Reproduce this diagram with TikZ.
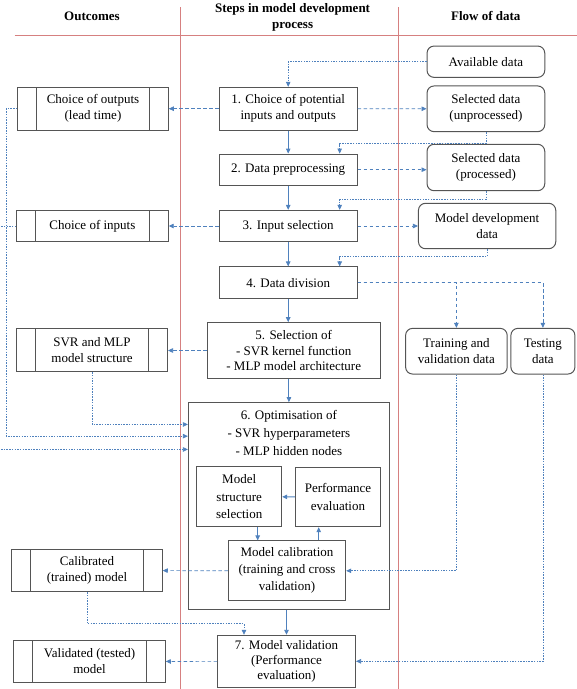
\documentclass[tikz,border=0pt]{standalone}
\usepackage{fontspec}
\setmainfont{Liberation Serif}
\usetikzlibrary{shapes,arrows.meta,positioning,fit}

\definecolor{flowblue}{RGB}{79,129,189}
\definecolor{colred}{RGB}{214,128,128}
\definecolor{boxgrey}{RGB}{85,85,85}

\begin{document}
\begin{tikzpicture}[
    x=1pt, y=-1pt,
    font=\fontsize{13}{16}\selectfont,
    stepbox/.style={rectangle, draw=boxgrey, line width=1pt, align=center, inner sep=0pt},
    databox/.style={rectangle, draw=boxgrey, line width=1pt, rounded corners=7pt, align=center, inner sep=0pt},
    outbox/.style={rectangle, draw=boxgrey, line width=1pt, align=center, inner sep=0pt,
        path picture={\draw[boxgrey, line width=1pt]
            ([xshift=19pt]path picture bounding box.north west) -- ([xshift=19pt]path picture bounding box.south west)
            ([xshift=-19pt]path picture bounding box.north east) -- ([xshift=-19pt]path picture bounding box.south east);}},
    header/.style={font=\fontsize{13}{16.5}\selectfont\bfseries, align=center},
    arrow/.style={-{Triangle[length=5pt,width=4.5pt]}, flowblue, line width=0.9pt},
    dasharrow/.style={arrow, line width=0.7pt, dash pattern=on 3.5pt off 2.5pt},
    dotarrow/.style={arrow, line width=0.7pt, dash pattern=on 1.5pt off 1.2pt}
]
\useasboundingbox (0,0) rectangle (577,689);

% Column rules
\draw[colred, line width=0.8pt] (14.7,35) -- (577,35);
\draw[colred, line width=0.8pt] (180.3,7) -- (180.3,689);
\draw[colred, line width=0.8pt] (398.2,7) -- (398.2,689);

% Headers
\node[header] (hout) at (92,16) {Outcomes};
\node[header] (hsteps) at (292.6,17.5) {Steps in model development\\process};
\node[header] (hflow) at (485.8,16) {Flow of data};

% Flow of data - right
\node[databox, minimum width=117.7pt, minimum height=31.3pt] (avail) at (485.9,61.7) {Available data};
\node[databox, minimum width=117.7pt, minimum height=45.7pt] (selu) at (485.9,108.8) {Selected data\\(unprocessed)};
\node[databox, minimum width=117.7pt, minimum height=46.4pt] (selp) at (485.9,167.5) {Selected data\\(processed)};
\node[databox, minimum width=137.3pt, minimum height=45.4pt] (mdd) at (487.1,226) {Model development\\data};
\node[databox, minimum width=101.6pt, minimum height=45.7pt] (trval) at (456.4,351.2) {Training and\\validation data};
\node[databox, minimum width=64pt, minimum height=45.7pt] (test) at (542.9,351.2) {Testing\\data};

% Steps - middle
\node[stepbox, minimum width=137.6pt, minimum height=42.7pt] (s1) at (288.2,108.7) {1. Choice of potential\\inputs and outputs};
\node[stepbox, minimum width=137.6pt, minimum height=31.3pt] (s2) at (288.2,169.7) {2. Data preprocessing};
\node[stepbox, minimum width=137.6pt, minimum height=31.3pt] (s3) at (288.2,226) {3. Input selection};
\node[stepbox, minimum width=137.6pt, minimum height=31.5pt] (s4) at (288.2,282.7) {4. Data division};
\node[stepbox, minimum width=173pt, minimum height=55.6pt, font=\fontsize{13}{15.5}\selectfont] (s5) at (293.7,350.5) {5. Selection of\\- SVR kernel function\\- MLP model architecture};
\node[stepbox, minimum width=201pt, minimum height=207.3pt] (s6) at (288.9,506.3) {};
\node[align=center, font=\fontsize{13}{18}\selectfont] (s6t) at (288.9,433) {6. Optimisation of\\- SVR hyperparameters\\- MLP hidden nodes};
\node[stepbox, minimum width=85pt, minimum height=60pt, font=\fontsize{13}{17.5}\selectfont] (mss) at (239.2,496.7) {Model\\structure\\selection};
\node[stepbox, minimum width=85.4pt, minimum height=59.4pt, font=\fontsize{13}{17.5}\selectfont] (pe) at (338,497) {Performance\\evaluation};
\node[stepbox, minimum width=117.4pt, minimum height=59.7pt, font=\fontsize{13}{17}\selectfont] (cal) at (287,570.8) {Model calibration\\(training and cross\\validation)};
\node[stepbox, minimum width=138pt, minimum height=52pt, font=\fontsize{13}{15}\selectfont] (s7) at (286.5,661.3) {7. Model validation\\(Performance\\evaluation)};

% Outcomes - left
\node[outbox, minimum width=150.5pt, minimum height=42.7pt] (cout) at (93,108.7) {Choice of outputs\\(lead time)};
\node[outbox, minimum width=151.6pt, minimum height=31.3pt] (cin) at (92.4,226) {Choice of inputs};
\node[outbox, minimum width=151pt, minimum height=42.7pt] (cstr) at (92,350.3) {SVR and MLP\\model structure};
\node[outbox, minimum width=150.5pt, minimum height=42.4pt] (ccal) at (87,570.5) {Calibrated\\(trained) model};
\node[outbox, minimum width=151.3pt, minimum height=41.6pt] (cval) at (89.6,661.5) {Validated (tested)\\model};

% Main steps
\draw[arrow] (s1) -- (s2);
\draw[arrow] (s2) -- (s3);
\draw[arrow] (s3) -- (s4);
\draw[arrow] (s4.south) -- (s4.south |- s5.north);
\draw[arrow] (s5.south -| s6.north) -- (s6.north);
\draw[arrow] (s6.south -| s7.north) -- (s7.north);

% Optimisation loop
\draw[arrow] ([xshift=18.5pt]mss.south) -- ([xshift=18.5pt]mss.south |- cal.north);
\draw[arrow] ([xshift=-19.3pt]pe.south |- cal.north) -- ([xshift=-19.3pt]pe.south);
\draw[arrow] (pe) -- (mss);

% Data into steps
\draw[dotarrow] (avail.west) -| (s1.north);
\draw[dotarrow] (selu.south) -- ++(0,11.5) -| ([xshift=51.5pt]s2.north);
\draw[dotarrow] (selp.south) -- ++(0,8.3) -| ([xshift=51.5pt]s3.north);
\draw[dotarrow] (mdd.south) -- ++(0,7.3) -| ([xshift=51.5pt]s4.north);
\draw[dotarrow] (trval.south) |- (cal.east);
\draw[dotarrow] (test.south) |- (s7.east);

% Steps out to data
\draw[dasharrow] (s1) -- (selu);
\draw[dasharrow] (s2.east) -- (s2.east -| selp.west);
\draw[dasharrow] (s3) -- (mdd);
\draw[dasharrow] (s4.east) -| (trval.north);
\draw[dasharrow] (s4.east) -| (test.north);

% Steps out to outcomes
\draw[dasharrow] (s1) -- (cout);
\draw[dasharrow] (s3) -- (cin);
\draw[dasharrow] (s5.west) -- (s5.west -| cstr.east);
\draw[dasharrow] (cal) -- (ccal);
\draw[dasharrow] (s7) -- (cval);

% Outcomes back into optimisation and validation
\draw[dotarrow] (cstr.south) |- ([yshift=-22.3pt]s6.north west);
\draw[dotarrow] (cout.west) -- ++(-11,0) |- ([yshift=-34pt]s6.north west);
\draw[dotarrow] (cin.west) -- ++(-20,0) |- ([yshift=-47.3pt]s6.north west);
\draw[dotarrow] (ccal.south) -- ++(0,31.6) -| ([xshift=-42.5pt]s7.north);

\end{tikzpicture}
\end{document}
